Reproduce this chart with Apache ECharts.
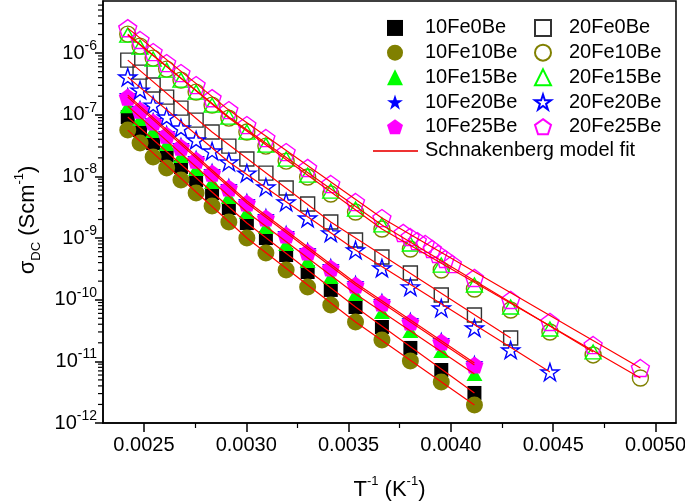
<!DOCTYPE html>
<html><head><meta charset="utf-8">
<script src="https://cdn.jsdelivr.net/npm/echarts@6/dist/echarts.min.js"></script>
<style>html,body{margin:0;padding:0;background:#fff}#c{width:685px;height:503px}</style>
</head><body><div id="c"></div>
<script>
// inverse temperature (K^-1)
const invT10Fe = [0.002421, 0.002481, 0.002545, 0.002611, 0.002681, 0.002755, 0.002833, 0.002915, 0.003003, 0.003096, 0.003195, 0.0033, 0.003413, 0.003534, 0.003663, 0.003802, 0.003953, 0.004115];
const invT20Fe = [0.002421, 0.002481, 0.002545, 0.002611, 0.002681, 0.002755, 0.002833, 0.002915, 0.003003, 0.003096, 0.003195, 0.0033, 0.003413, 0.003534, 0.003663, 0.003802, 0.003953, 0.004115, 0.004292, 0.004484, 0.004695, 0.004926];
const invT20Fe25Be = [0.002421, 0.002481, 0.002545, 0.002611, 0.002681, 0.002755, 0.002833, 0.002915, 0.003003, 0.003096, 0.003195, 0.0033, 0.003413, 0.003534, 0.003663, 0.003767, 0.003801, 0.003836, 0.003875, 0.003909, 0.003938, 0.003973, 0.004007, 0.004115, 0.004292, 0.004484, 0.004695, 0.004926];

// sigma_DC (S cm^-1)
const s10Fe0Be  = [9.17e-8, 5.64e-8, 3.47e-8, 2.22e-8, 1.42e-8, 8.72e-9, 5.37e-9, 3.07e-9, 1.75e-9, 1.0e-9, 5.30e-10, 2.81e-10, 1.44e-10, 7.61e-11, 3.61e-11, 1.65e-11, 7.24e-12, 3.07e-12];
const s10Fe10Be = [5.64e-8, 3.47e-8, 2.06e-8, 1.37e-8, 8.72e-9, 5.37e-9, 3.31e-9, 1.82e-9, 1.0e-9, 5.71e-10, 3.03e-10, 1.61e-10, 8.2e-11, 4.35e-11, 2.22e-11, 1.01e-11, 4.63e-12, 1.96e-12];
const s10Fe15Be = [1.38e-7, 8.51e-8, 5.43e-8, 3.34e-8, 2.14e-8, 1.32e-8, 8.10e-9, 4.62e-9, 2.64e-9, 1.51e-9, 8.0e-10, 4.24e-10, 2.33e-10, 1.24e-10, 6.31e-11, 3.11e-11, 1.47e-11, 6.24e-12];
const s10Fe20Be = [2.08e-7, 1.28e-7, 8.19e-8, 5.04e-8, 3.22e-8, 1.98e-8, 1.22e-8, 6.97e-9, 3.98e-9, 2.28e-9, 1.21e-9, 6.39e-10, 3.52e-10, 1.86e-10, 9.52e-11, 4.68e-11, 2.22e-11, 9.40e-12];
const s10Fe25Be = [1.93e-7, 1.19e-7, 7.61e-8, 4.68e-8, 2.99e-8, 1.84e-8, 1.13e-8, 6.47e-9, 3.70e-9, 2.11e-9, 1.12e-9, 5.93e-10, 3.26e-10, 1.73e-10, 8.84e-11, 4.35e-11, 2.06e-11, 8.73e-12];
const s20Fe0Be  = [7.70e-7, 4.92e-7, 3.03e-7, 1.93e-7, 1.28e-7, 8.19e-8, 5.24e-8, 3.10e-8, 1.91e-8, 1.13e-8, 6.47e-9, 3.56e-9, 1.82e-9, 9.29e-10, 4.92e-10, 2.71e-10, 1.19e-10, 5.64e-11, 2.39e-11];
const s20Fe10Be = [2.03e-6, 1.30e-6, 8.30e-7, 5.50e-7, 3.65e-7, 2.33e-7, 1.43e-7, 8.83e-8, 5.24e-8, 3.10e-8, 1.77e-8, 9.76e-9, 5.17e-9, 2.64e-9, 1.40e-9, 6.63e-10, 3.03e-10, 1.49e-10, 6.80e-11, 2.99e-11, 1.27e-11, 5.37e-12];
const s20Fe15Be = [1.96e-6, 1.25e-6, 8.0e-7, 5.30e-7, 3.65e-7, 2.33e-7, 1.43e-7, 9.17e-8, 5.24e-8, 3.22e-8, 1.91e-8, 1.05e-8, 5.79e-9, 2.95e-9, 1.63e-9, 8.0e-10, 3.65e-10, 1.73e-10, 7.61e-11, 3.35e-11, 1.42e-11];
const s20Fe20Be = [4.08e-7, 2.51e-7, 1.43e-7, 9.17e-8, 6.08e-8, 3.88e-8, 2.58e-8, 1.71e-8, 1.13e-8, 6.72e-9, 3.84e-9, 2.11e-9, 1.21e-9, 6.39e-10, 3.26e-10, 1.61e-10, 7.33e-11, 3.48e-11, 1.53e-11, 6.72e-12];
const s20Fe25Be = [2.54e-6, 1.63e-6, 1.04e-6, 6.89e-7, 4.74e-7, 3.03e-7, 1.86e-7, 1.19e-7, 6.80e-8, 4.19e-8, 2.48e-8, 1.37e-8, 7.52e-9, 3.84e-9, 2.11e-9, 1.21e-9, 1.04e-9, 8.93e-10, 8.0e-10, 6.64e-10, 5.51e-10, 4.57e-10, 3.79e-10, 2.25e-10, 9.9e-11, 4.35e-11, 1.84e-11, 7.8e-12];

// Schnakenberg model fit curves [1/T, sigma]
const fit10Fe0Be  = [[0.002421, 9.17e-8], [0.003003, 1.75e-9], [0.003534, 7.61e-11], [0.004115, 3.07e-12]];
const fit10Fe10Be = [[0.002421, 5.64e-8], [0.003003, 1.0e-9], [0.003534, 4.35e-11], [0.004115, 1.96e-12]];
const fit10Fe15Be = [[0.002421, 1.38e-7], [0.003003, 2.64e-9], [0.003534, 1.24e-10], [0.004115, 6.24e-12]];
const fit10Fe20Be = [[0.002421, 2.08e-7], [0.003003, 3.98e-9], [0.003534, 1.86e-10], [0.004115, 9.40e-12]];
const fit10Fe25Be = [[0.002421, 1.93e-7], [0.003003, 3.70e-9], [0.003534, 1.73e-10], [0.004115, 8.73e-12]];
const fit20Fe0Be  = [[0.002421, 7.70e-7], [0.002833, 5.24e-8], [0.003413, 1.82e-9], [0.004292, 2.39e-11]];
const fit20Fe10Be = [[0.002421, 2.03e-6], [0.002915, 8.83e-8], [0.003663, 1.40e-9], [0.004926, 5.37e-12]];
const fit20Fe15Be = [[0.002421, 1.96e-6], [0.002915, 9.17e-8], [0.003663, 1.63e-9], [0.004695, 1.42e-11]];
const fit20Fe20Be = [[0.002421, 4.08e-7], [0.002915, 1.71e-8], [0.003534, 6.39e-10], [0.004484, 6.72e-12]];
const fit20Fe25Be = [[0.002421, 2.54e-6], [0.002915, 1.19e-7], [0.003663, 2.11e-9], [0.004926, 7.8e-12]];

const xTicks = [0.0025, 0.003, 0.0035, 0.004, 0.0045, 0.005];
const names10 = ['10Fe0Be', '10Fe10Be', '10Fe15Be', '10Fe20Be', '10Fe25Be'];
const names20 = ['20Fe0Be', '20Fe10Be', '20Fe15Be', '20Fe20Be', '20Fe25Be'];
const fitName = 'Schnakenberg model fit';

const X_MIN = 0.0023, X_MAX = 0.0051, Y_MIN = 1e-12, Y_MAX = 7e-6;
const minorY = [];
for (let e = -12; e <= -6; e++) for (let k = 2; k <= 9; k++) { const v = k * Math.pow(10, e); if (v < Y_MAX) minorY.push(v); }

const STAR = 'path://M50 0 L61.2 34.5 L97.6 34.5 L68.2 55.9 L79.4 90.5 L50 69.1 L20.6 90.5 L31.8 55.9 L2.4 34.5 L38.8 34.5 Z';
const PENT = 'path://M50 0 L97.6 34.5 L79.4 90.5 L20.6 90.5 L2.4 34.5 Z';
const FONT = "'Liberation Sans', Arial, sans-serif";

function sc(name, xs, ys, symbol, size, color, filled, keep) {
  return {
    type: 'scatter', name, data: ys.map((y, i) => [xs[i], y]),
    symbol, symbolSize: size, symbolKeepAspect: !!keep,
    itemStyle: filled ? { color, opacity: 1 } : { color: 'rgba(0,0,0,0)', borderColor: color, borderWidth: 1.4, opacity: 1 },
    z: 2, silent: true, animation: false
  };
}
function fit(arr) {
  return { type: 'line', name: fitName, data: arr, symbol: 'none', showSymbol: false,
    lineStyle: { color: '#ff0000', width: 1.2 }, itemStyle: { color: '#ff0000' }, z: 3, silent: true, animation: false };
}

const series = [
  sc('10Fe0Be', invT10Fe, s10Fe0Be, 'rect', 14, '#000000', true),
  sc('10Fe10Be', invT10Fe, s10Fe10Be, 'circle', 17, '#808000', true),
  sc('10Fe15Be', invT10Fe, s10Fe15Be, 'triangle', [16, 14], '#00ff00', true),
  sc('10Fe20Be', invT10Fe, s10Fe20Be, STAR, 18, '#0000ff', true, true),
  sc('10Fe25Be', invT10Fe, s10Fe25Be, PENT, 18, '#ff00ff', true, true),
  sc('20Fe0Be', invT20Fe, s20Fe0Be, 'rect', 14, '#333333', false),
  sc('20Fe10Be', invT20Fe, s20Fe10Be, 'circle', 16, '#808000', false),
  sc('20Fe15Be', invT20Fe, s20Fe15Be, 'triangle', [16, 14], '#00ff00', false),
  sc('20Fe20Be', invT20Fe, s20Fe20Be, STAR, 18, '#0000ff', false, true),
  sc('20Fe25Be', invT20Fe25Be, s20Fe25Be, PENT, 18, '#ff00ff', false, true),
  fit(fit10Fe0Be), fit(fit10Fe10Be), fit(fit10Fe15Be), fit(fit10Fe20Be), fit(fit10Fe25Be),
  fit(fit20Fe0Be), fit(fit20Fe10Be), fit(fit20Fe15Be), fit(fit20Fe20Be), fit(fit20Fe25Be),
  {
    type: 'custom', name: 'minorTicksY', silent: true, clip: false, animation: false, z: 5,
    data: minorY.map(v => [X_MIN, v]),
    renderItem: function (params, api) {
      const p = api.coord([api.value(0), api.value(1)]);
      return { type: 'line', shape: { x1: p[0] - 5, y1: p[1], x2: p[0], y2: p[1] }, style: { stroke: '#000', lineWidth: 1.2 } };
    }
  }
];

function legendText(padLeft) {
  return { fontSize: 20, fontFamily: FONT, color: '#000', lineHeight: 24.7, padding: [0, 0, 0, padLeft] };
}
const chart = echarts.init(document.getElementById('c'), null, { renderer: 'canvas' });
chart.setOption({
  animation: false,
  backgroundColor: '#fff',
  grid: { left: 103, right: 9, top: 1, bottom: 80, show: true, borderColor: '#000', borderWidth: 1.5, containLabel: false, outerBoundsMode: 'none' },
  legend: [
    { data: names10, orient: 'vertical', left: 387, top: 15.6, itemWidth: 16, itemHeight: 16, itemGap: 0, padding: 0, textStyle: legendText(17), selectedMode: false },
    { data: names20, orient: 'vertical', left: 534, top: 15.6, itemWidth: 16, itemHeight: 16, itemGap: 0, padding: 0, textStyle: legendText(13), selectedMode: false },
    { data: [{ name: fitName, icon: 'rect' }], orient: 'vertical', left: 373, top: 138.6, itemWidth: 45, itemHeight: 2, padding: 0, textStyle: legendText(2), selectedMode: false, itemStyle: { color: '#ee3333' } }
  ],
  xAxis: {
    type: 'value', min: X_MIN, max: X_MAX,
    name: '{t|T}{sup|-1}{t| (K}{sup|-1}{t|)}', nameLocation: 'middle', nameGap: 52,
    nameTextStyle: { rich: {
      t: { fontSize: 22, fontFamily: FONT, color: '#000', lineHeight: 30 },
      sup: { fontSize: 13, fontFamily: FONT, color: '#000', lineHeight: 14, verticalAlign: 'top' }
    } },
    axisLine: { show: true, lineStyle: { color: '#000', width: 1.5 } },
    axisTick: { show: true, inside: false, length: 9, lineStyle: { color: '#000', width: 1.5 }, customValues: xTicks },
    minorTick: { show: true, splitNumber: 2, length: 5, lineStyle: { color: '#000', width: 1.2 } },
    axisLabel: { customValues: xTicks, margin: 12, fontSize: 20, fontFamily: FONT, color: '#000', formatter: v => v.toFixed(4) },
    splitLine: { show: false }, minorSplitLine: { show: false }
  },
  yAxis: {
    type: 'log', logBase: 10, min: Y_MIN, max: Y_MAX,
    name: '{s|σ}{sub|DC}{s| (Scm}{sup|-1}{s|)}', nameLocation: 'middle', nameRotate: 90, nameGap: 60,
    nameTextStyle: { padding: [0, 16, 0, 0], rich: {
      s: { fontSize: 22, fontFamily: FONT, color: '#000', lineHeight: 30 },
      sub: { fontSize: 13, fontFamily: FONT, color: '#000', lineHeight: 14, verticalAlign: 'bottom' },
      sup: { fontSize: 13, fontFamily: FONT, color: '#000', lineHeight: 14, verticalAlign: 'top' }
    } },
    axisLine: { show: true, lineStyle: { color: '#000', width: 1.5 } },
    axisTick: { show: true, inside: false, length: 8, lineStyle: { color: '#000', width: 1.5 } },
    axisLabel: {
      margin: 6, showMaxLabel: false,
      formatter: v => '{b|10}{s|' + Math.round(Math.log10(v)) + '}',
      rich: {
        b: { fontSize: 20, fontFamily: FONT, color: '#000', lineHeight: 28 },
        s: { fontSize: 14, fontFamily: FONT, color: '#000', lineHeight: 14, verticalAlign: 'top' }
      }
    },
    splitLine: { show: false }
  },
  series
});
</script></body></html>
